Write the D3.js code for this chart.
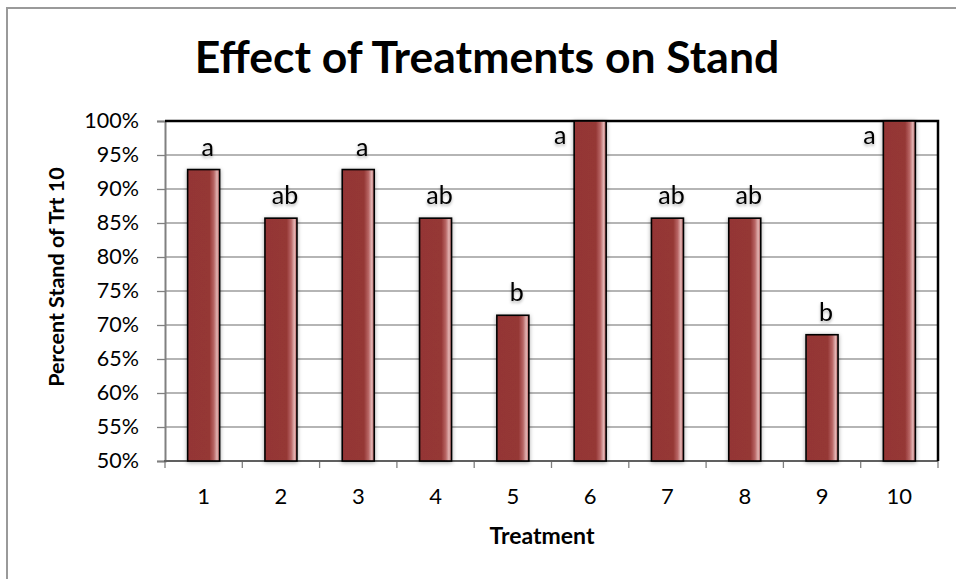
<!DOCTYPE html>
<html><head><meta charset="utf-8">
<script src="https://cdn.jsdelivr.net/npm/d3@7"></script>
<style>
body{margin:0;background:#fff;}
svg{display:block;}
text{font-family:Lato,"Open Sans",sans-serif;}
</style></head>
<body><svg id="c" width="956" height="579"></svg>
<script>
const treatments = ["1","2","3","4","5","6","7","8","9","10"];
const standPct = [92.86, 85.71, 92.86, 85.71, 71.43, 100, 85.71, 85.71, 68.57, 100];
const letters = ["a","ab","a","ab","b","a","ab","ab","b","a"];
const yTicks = [50,55,60,65,70,75,80,85,90,95,100];
const title = "Effect of Treatments on Stand";
const xTitle = "Treatment";
const yTitle = "Percent Stand of Trt 10";

const svg = d3.select("#c");
const L=165, R=938, T=121, B=461;

const defs = svg.append("defs");
const g = defs.append("linearGradient").attr("id","barGrad").attr("x1","0").attr("x2","1").attr("y1","0").attr("y2","0");
[[0,"#943634"],[0.68,"#953735"],[0.82,"#b86665"],[0.92,"#e2b4b3"],[1,"#b25a59"]].forEach(([o,c])=>g.append("stop").attr("offset",o).attr("stop-color",c));
const sh = defs.append("filter").attr("id","shadow").attr("x","-30%").attr("y","-10%").attr("width","160%").attr("height","120%");
sh.append("feDropShadow").attr("dx",0).attr("dy",1).attr("stdDeviation",2.2).attr("flood-color","#000").attr("flood-opacity",0.35);
const tsh = defs.append("filter").attr("id","tshadow").attr("x","-50%").attr("y","-50%").attr("width","200%").attr("height","200%");
tsh.append("feDropShadow").attr("dx",0).attr("dy",2).attr("stdDeviation",1.6).attr("flood-color","#000").attr("flood-opacity",0.3);

// outer chart border
svg.append("rect").attr("x",7).attr("y",8).attr("width",980).attr("height",600)
  .attr("fill","#fff").attr("stroke","#9a9a9a").attr("stroke-width",2);

const x = d3.scaleBand().domain(treatments).range([L,R]).paddingInner(0.586).paddingOuter(0.293);
const y = d3.scaleLinear().domain([50,100]).range([B,T]);

// gridlines
svg.append("g").selectAll("line").data(yTicks).join("line")
  .attr("x1",L).attr("x2",R).attr("y1",d=>y(d)).attr("y2",d=>y(d))
  .attr("stroke","#9c9c9c").attr("stroke-width",1.3);

// y axis
const yAxis = svg.append("g").attr("transform",`translate(${L},0)`)
  .call(d3.axisLeft(y).tickValues(yTicks).tickSize(8).tickPadding(18).tickFormat(d=>d+"%"));
yAxis.select(".domain").attr("stroke","#808080").attr("stroke-width",2);
yAxis.selectAll(".tick line").attr("stroke","#808080").attr("stroke-width",1.3);
yAxis.selectAll("text").attr("font-size",21.5).attr("fill","#000").attr("font-family","Lato");

// x axis
const xAxis = svg.append("g").attr("transform",`translate(0,${B})`)
  .call(d3.axisBottom(x).tickSize(0).tickPadding(27));
xAxis.select(".domain").remove();
xAxis.selectAll("text").attr("font-size",22).attr("fill","#000").attr("font-family","Lato");
const bounds = treatments.map(t=>x(t)-x.step()*x.paddingInner()/2).concat([R]);
svg.append("g").selectAll("line").data(bounds).join("line")
  .attr("x1",d=>d).attr("x2",d=>d).attr("y1",B).attr("y2",B+7)
  .attr("stroke","#808080").attr("stroke-width",1.3);
svg.append("line").attr("x1",L-1).attr("x2",R).attr("y1",B).attr("y2",B)
  .attr("stroke","#606060").attr("stroke-width",2.2);

// plot border top/right
svg.append("path").attr("d",`M${L},${T}H${R}V${B}`).attr("fill","none").attr("stroke","#000").attr("stroke-width",2.5);

// bars
svg.append("g").selectAll("rect").data(treatments).join("rect")
  .attr("x",d=>x(d)).attr("width",x.bandwidth())
  .attr("y",(d,i)=>y(standPct[i])).attr("height",(d,i)=>B-y(standPct[i]))
  .attr("fill","url(#barGrad)").attr("stroke","#000").attr("stroke-width",1.6)
  .attr("filter","url(#shadow)");

// letter labels
svg.append("g").selectAll("text").data(treatments).join("text")
  .attr("x",(d,i)=> standPct[i]>=100 ? x(d)-14 : x(d)+x.bandwidth()/2+4)
  .attr("y",(d,i)=> standPct[i]>=100 ? y(100)+23 : y(standPct[i])-14)
  .attr("text-anchor","middle")
  .attr("font-family","'Liberation Sans',Arial,sans-serif").attr("font-size",25)
  .attr("filter","url(#tshadow)")
  .text((d,i)=>letters[i]);

// titles
svg.append("text").attr("x",487).attr("y",73).attr("text-anchor","middle")
  .attr("font-weight","bold").attr("font-size",44.5).text(title);
svg.append("text").attr("x",542).attr("y",544).attr("text-anchor","middle")
  .attr("font-weight","bold").attr("font-size",23).text(xTitle);
svg.append("text").attr("transform","translate(64,277) rotate(-90)").attr("text-anchor","middle")
  .attr("font-weight","bold").attr("font-size",21.5).text(yTitle);
</script></body></html>
